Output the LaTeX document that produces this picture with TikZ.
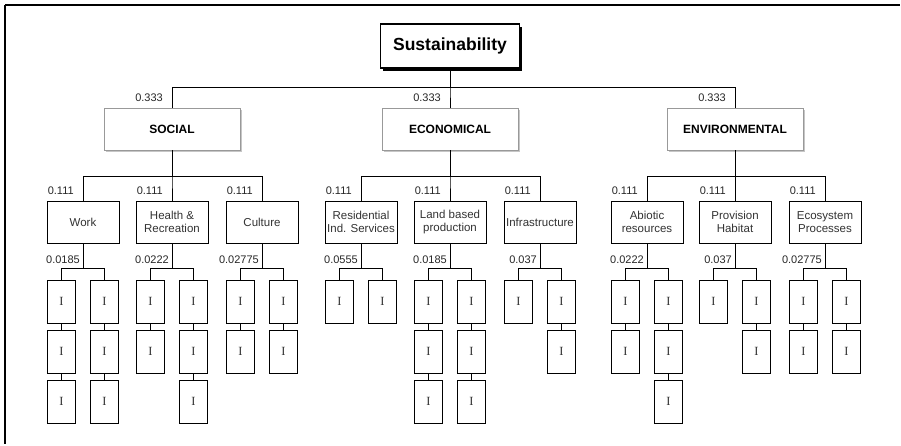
\documentclass[tikz,border=0pt]{standalone}
\usepackage{fontspec}
\setmainfont{Liberation Sans}
\newfontfamily\leaffont{Liberation Serif}
\usetikzlibrary{calc,shadows}

\begin{document}
\begin{tikzpicture}[
  x=1pt, y=-1pt,
  root/.style={draw, line width=1.6pt, fill=white, minimum width=139pt,
               minimum height=44pt, inner sep=2pt,
               font=\fontsize{17.5}{20}\selectfont\bfseries,
               drop shadow={shadow xshift=2.6pt, shadow yshift=-2.6pt,
                            fill=black, opacity=1}},
  dim/.style={draw=gray!80, line width=0.9pt, fill=white, minimum width=136pt,
              minimum height=42pt, inner sep=2pt,
              font=\fontsize{12}{14}\selectfont\bfseries,
              drop shadow={shadow xshift=2.2pt, shadow yshift=-2.2pt,
                           fill=gray!45, opacity=1}},
  mid/.style={draw, line width=0.8pt, fill=white, minimum width=72pt,
              minimum height=42pt, inner sep=1pt, align=center,
              font=\fontsize{11.5}{13.5}\selectfont, text=black!80},
  leaf/.style={draw, line width=0.8pt, fill=white, minimum width=28pt,
               minimum height=43pt, inner sep=1pt,
               font=\leaffont\fontsize{12.5}{14}\selectfont, text=black!80},
  wt/.style={inner sep=1pt, font=\fontsize{11}{12}\selectfont, text=black!85},
  link/.style={line width=0.8pt},
  edgeline/.style={line width=1.4pt},
]
  \useasboundingbox (0,0) rectangle (901,445);

  \def\xSoc{172}   % SOCIAL
  \def\xEco{450}   % ECONOMICAL
  \def\xEnv{735}   % ENVIRONMENTAL

  % --- Border (top and left edge only) ---
  \draw[edgeline] (5,5) -- (900,5);
  \draw[edgeline] (5,5) -- (5,444);

  % --- Root and dimensions ---
  \node[root] (sus) at (\xEco,46) {Sustainability};
  \node[dim] (soc) at (\xSoc,129) {SOCIAL};
  \node[dim] (eco) at (\xEco,129) {ECONOMICAL};
  \node[dim] (env) at (\xEnv,129) {ENVIRONMENTAL};

  % --- Criteria ---
  \node[mid] (wk)  at (83,222)    {Work};
  \node[mid] (hr)  at (\xSoc,222) {Health \&\\Recreation};
  \node[mid] (cu)  at (262,222)   {Culture};
  \node[mid] (rs)  at (361,222)   {Residential\\Ind. Services};
  \node[mid] (lb)  at (\xEco,222) {Land based\\production};
  \node[mid] (inf) at (540,222)   {Infrastructure};
  \node[mid] (ab)  at (647,222)   {Abiotic\\resources};
  \node[mid] (ph)  at (\xEnv,222) {Provision\\Habitat};
  \node[mid] (ec)  at (825,222)   {Ecosystem\\Processes};

  % --- Root to dimensions ---
  \foreach \c in {soc,eco,env}{
    \draw[link] (sus.south) -- ++(0,19) -| (\c.north);
    \node[wt, anchor=south east] (\c-w) at ([xshift=-8pt,yshift=5pt]\c.north) {0.333};
  }

  % --- Dimensions to criteria ---
  \foreach \d/\m in {soc/wk,soc/hr,soc/cu,eco/rs,eco/lb,eco/inf,env/ab,env/ph,env/ec}{
    \draw[link] (\d.south) -- ++(0,26) -| (\m.north);
    \node[wt, anchor=south west] (\m-w) at ([yshift=5pt]\m.north west) {0.111};
  }

  % --- Indicators ---
  \foreach \m/\na/\nb/\w in {wk/3/3/0.0185, hr/2/3/0.0222, cu/2/2/0.02775,
                              rs/1/1/0.0555, lb/3/3/0.0185, inf/1/2/0.037,
                              ab/2/3/0.0222, ph/1/2/0.037, ec/2/2/0.02775}{
    \coordinate (\m-bus) at ($(\m.south)+(0,25)$);
    \node[wt, anchor=south east] (\m-iw) at ([xshift=-2pt,yshift=4pt]\m-bus) {\w};
    \foreach \c/\n/\dx in {a/\na/-21.5, b/\nb/21.5}{
      \foreach \r in {1,...,\n}{
        \node[leaf] (\m-\c\r) at ($(\m.south)+(\dx,{58+(\r-1)*50})$) {I};
        \pgfmathtruncatemacro\p{\r-1}
        \ifnum\r>1
          \draw[link] (\m-\c\p.south) -- (\m-\c\r.north);
        \fi
      }
      \draw[link] (\m.south) -- (\m-bus) -| (\m-\c1.north);
    }
  }

\end{tikzpicture}
\end{document}
